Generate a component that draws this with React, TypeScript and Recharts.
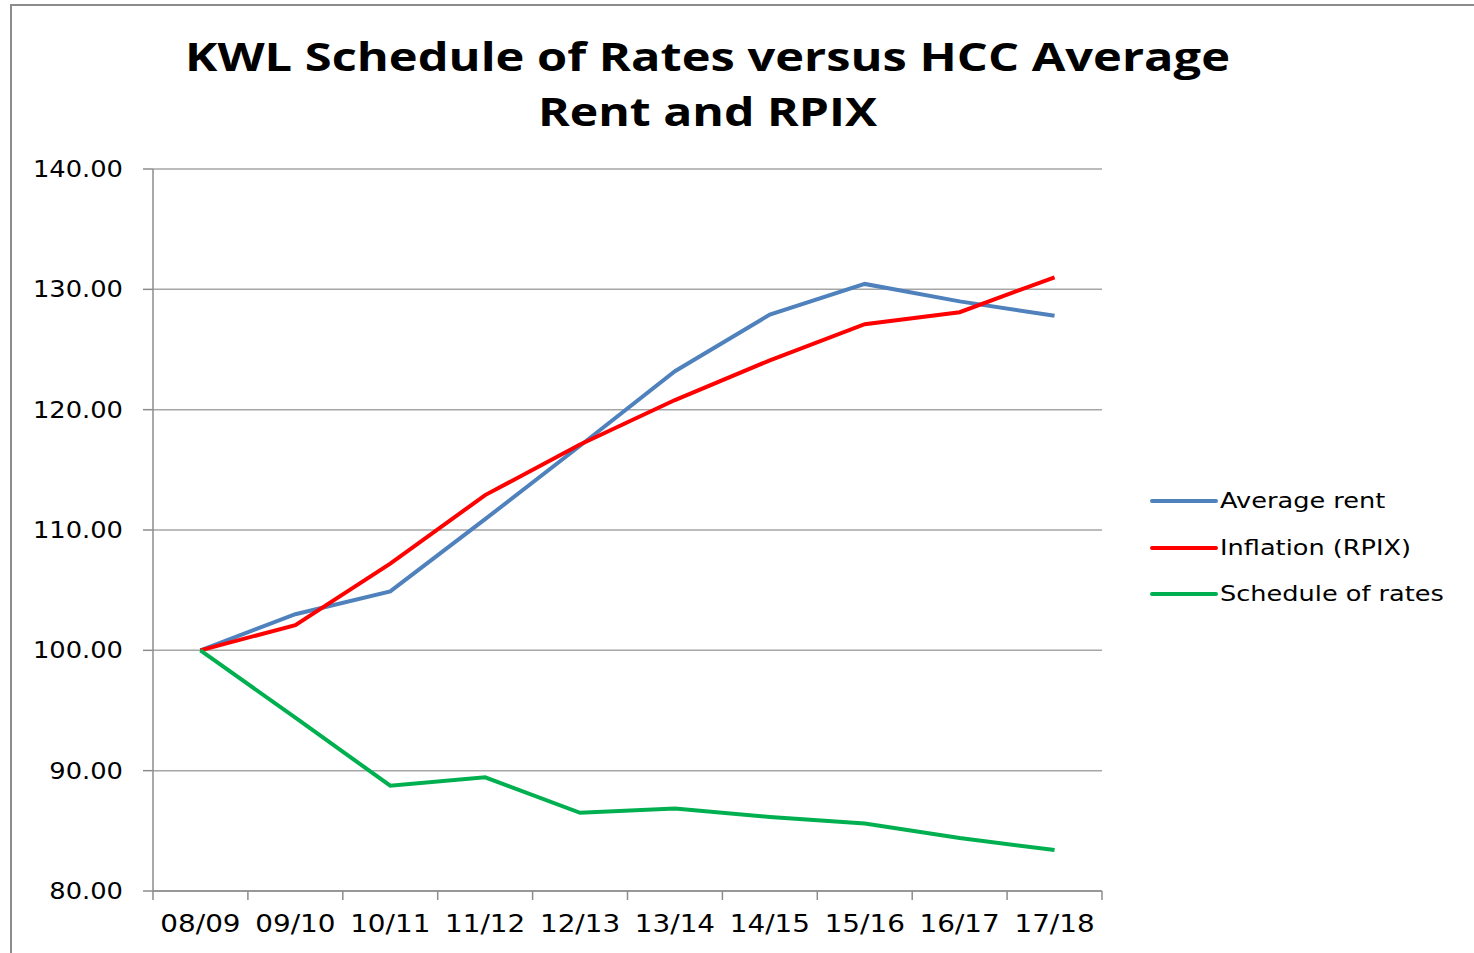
import React from 'react';
import { LineChart, Line, XAxis, YAxis, CartesianGrid, Legend } from 'recharts';

const categories = ['08/09', '09/10', '10/11', '11/12', '12/13', '13/14', '14/15', '15/16', '16/17', '17/18'];
const averageRent = [100, 103.0, 104.9, 110.9, 117.0, 123.2, 127.9, 130.45, 129.0, 127.8];
const inflationRPIX = [100, 102.1, 107.2, 112.9, 117.1, 120.8, 124.1, 127.1, 128.1, 131.0];
const scheduleOfRates = [100, 94.4, 88.75, 89.45, 86.5, 86.85, 86.15, 85.6, 84.4, 83.4];
const yTicks = [80, 90, 100, 110, 120, 130, 140];
const titleLines = ['KWL Schedule of Rates versus HCC Average', 'Rent and RPIX'];

const seriesNames = ['Average rent', 'Inflation (RPIX)', 'Schedule of rates'];
const seriesColors = ['#4f81bd', '#ff0000', '#00b050'];

const data = categories.map((c, i) => ({
  cat: c,
  rent: averageRent[i],
  rpix: inflationRPIX[i],
  sor: scheduleOfRates[i],
}));

const FONT = 'DejaVu Sans, Verdana, sans-serif';
const PLOT_W = 949;
const STEP = PLOT_W / categories.length;
const AXIS_GREY = '#8c8c8c';

const YTick = (props: any) => {
  const { x, y, payload } = props;
  return (
    <text
      transform={`translate(${x},${y + 8}) scale(1.12,1)`}
      textAnchor="end"
      fontFamily={FONT}
      fontSize={23}
      fill="#000"
    >
      {Number(payload.value).toFixed(2)}
    </text>
  );
};

const XTick = (props: any) => {
  const { x, y, payload, index } = props;
  const isLast = index === categories.length - 1;
  return (
    <g>
      <line x1={x - STEP / 2} y1={y} x2={x - STEP / 2} y2={y + 9} stroke={AXIS_GREY} strokeWidth={1.5} />
      {isLast && (
        <line x1={x + STEP / 2} y1={y} x2={x + STEP / 2} y2={y + 9} stroke={AXIS_GREY} strokeWidth={1.5} />
      )}
      <text
        transform={`translate(${x},${y + 41}) scale(1.16,1)`}
        textAnchor="middle"
        fontFamily={FONT}
        fontSize={24}
        fill="#000"
      >
        {payload.value}
      </text>
    </g>
  );
};

const LegendContent = () => (
  <div style={{ fontFamily: FONT }}>
    {seriesNames.map((n, i) => (
      <div key={n} style={{ display: 'flex', alignItems: 'center', height: 46.5 }}>
        <svg width={70} height={10}>
          <line x1={2} y1={5} x2={66} y2={5} stroke={seriesColors[i]} strokeWidth={4} strokeLinecap="round" />
        </svg>
        <svg width={260} height={30}>
          <text
            transform={`translate(2,22) scale(1.22,1)`}
            fontFamily={FONT}
            fontSize={21}
            fill="#000"
          >
            {n}
          </text>
        </svg>
      </div>
    ))}
  </div>
);

export default function App() {
  return (
    <div style={{ position: 'absolute', left: 0, top: 0, width: 1474, height: 953, background: '#fff', overflow: 'hidden' }}>
      <div
        style={{
          position: 'absolute',
          left: 10,
          top: 4,
          width: 1480,
          height: 960,
          border: '2px solid #8c8c8c',
          boxSizing: 'border-box',
        }}
      />
      <svg style={{ position: 'absolute', left: 0, top: 0 }} width={1474} height={140}>
        <text
          x={185}
          y={71}
          textLength={1045}
          lengthAdjust="spacingAndGlyphs"
          fontFamily="Open Sans, sans-serif"
          fontWeight={700}
          fontSize={39}
          fill="#000"
        >
          {titleLines[0]}
        </text>
        <text
          x={538}
          y={126}
          textLength={339}
          lengthAdjust="spacingAndGlyphs"
          fontFamily="Open Sans, sans-serif"
          fontWeight={700}
          fontSize={39}
          fill="#000"
        >
          {titleLines[1]}
        </text>
      </svg>
      <div style={{ position: 'absolute', left: 0, top: 0 }}>
        <LineChart
          width={1474}
          height={953}
          data={data}
          margin={{ top: 169, right: 372, bottom: 0, left: 13 }}
        >
          <CartesianGrid horizontal vertical={false} stroke="#a6a6a6" strokeWidth={1.5} />
          <XAxis
            dataKey="cat"
            padding={{ left: STEP / 2, right: STEP / 2 }}
            tick={<XTick />}
            tickLine={false}
            tickSize={0}
            tickMargin={0}
            axisLine={{ stroke: AXIS_GREY, strokeWidth: 1.5 }}
            interval={0}
            height={62}
          />
          <YAxis
            domain={[80, 140]}
            ticks={yTicks}
            tick={<YTick />}
            width={140}
            tickSize={10}
            tickMargin={20}
            stroke={AXIS_GREY}
            strokeWidth={1.5}
            allowDataOverflow
          />
          <Legend
            layout="horizontal"
            verticalAlign="middle"
            align="center"
            content={<LegendContent />}
            wrapperStyle={{ left: 1150, top: 478, width: 320 }}
          />
          <Line dataKey="rent" name={seriesNames[0]} stroke={seriesColors[0]} strokeWidth={4} dot={false} isAnimationActive={false} />
          <Line dataKey="rpix" name={seriesNames[1]} stroke={seriesColors[1]} strokeWidth={4} dot={false} isAnimationActive={false} />
          <Line dataKey="sor" name={seriesNames[2]} stroke={seriesColors[2]} strokeWidth={4} dot={false} isAnimationActive={false} />
        </LineChart>
      </div>
    </div>
  );
}
